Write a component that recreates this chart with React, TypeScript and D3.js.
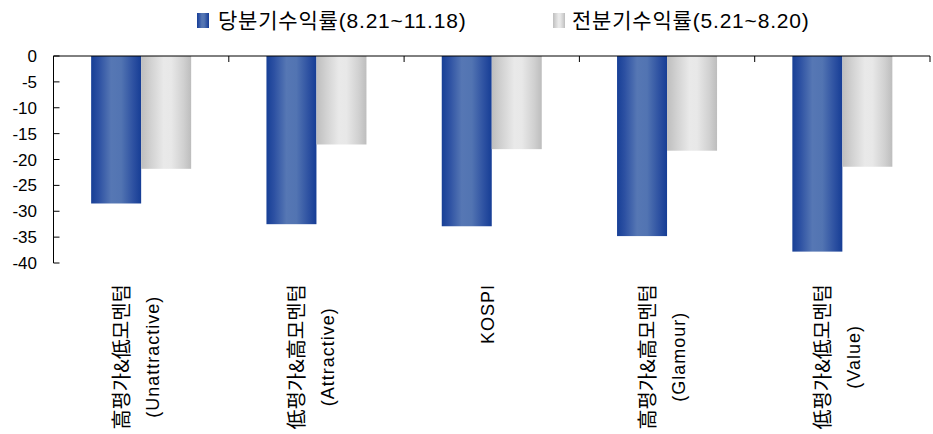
import React, { useEffect, useRef } from "react";
import * as d3 from "d3";

const categories = ["Unattractive", "Attractive", "KOSPI", "Glamour", "Value"];
const categoryLines: string[][] = [
  ["高평가&低모멘텀", "(Unattractive)"],
  ["低평가&高모멘텀", "(Attractive)"],
  ["KOSPI"],
  ["高평가&高모멘텀", "(Glamour)"],
  ["低평가&低모멘텀", "(Value)"],
];
const seriesNames = ["당분기수익률(8.21~11.18)", "전분기수익률(5.21~8.20)"];
const currentReturns = [-28.5, -32.5, -32.9, -34.8, -37.8];
const previousReturns = [-21.8, -17.1, -18.0, -18.3, -21.4];
const yTicks = [0, -5, -10, -15, -20, -25, -30, -35, -40];

const W = 933;
const H = 434;

export default function App() {
  const ref = useRef<SVGSVGElement | null>(null);

  useEffect(() => {
    const svg = d3.select(ref.current);
    svg.selectAll("*").remove();

    const defs = svg.append("defs");
    const blue = defs.append("linearGradient").attr("id", "gBlue").attr("x1", 0).attr("x2", 1).attr("y1", 0).attr("y2", 0);
    [
      [0, "#173F96"], [0.15, "#2C50A2"], [0.4, "#5677B4"], [0.6, "#5274B2"], [0.85, "#2C50A1"], [1, "#163D95"],
    ].forEach(([o, c]) => blue.append("stop").attr("offset", o as number).attr("stop-color", c as string));
    const gray = defs.append("linearGradient").attr("id", "gGray").attr("x1", 0).attr("x2", 1).attr("y1", 0).attr("y2", 0);
    [
      [0, "#BEBEBE"], [0.2, "#D2D2D2"], [0.45, "#E9E9E9"], [0.6, "#E8E8E8"], [0.85, "#D0D0D0"], [1, "#BDBDBD"],
    ].forEach(([o, c]) => gray.append("stop").attr("offset", o as number).attr("stop-color", c as string));
    const fills = ["url(#gBlue)", "url(#gGray)"];

    const left = 53.5, right = 930;
    const y = d3.scaleLinear().domain([-40, 0]).range([263, 56]);
    const x0 = d3.scaleBand<string>().domain(categories).range([left, right]).padding(0);
    const x1 = d3.scaleBand<string>().domain(["cur", "prev"]).range([0, x0.bandwidth()]).paddingInner(0).paddingOuter(0.753);

    const data = categories.map((c, i) => ({ c, vals: [currentReturns[i], previousReturns[i]] }));

    // bars
    const g = svg.append("g");
    data.forEach((d) => {
      ["cur", "prev"].forEach((k, j) => {
        const v = d.vals[j];
        g.append("rect")
          .attr("x", (x0(d.c) as number) + (x1(k) as number))
          .attr("y", y(0))
          .attr("width", x1.bandwidth())
          .attr("height", y(v) - y(0))
          .attr("fill", fills[j]);
      });
    });

    // y axis
    svg.append("line").attr("x1", left).attr("x2", left).attr("y1", y(0)).attr("y2", y(-40)).attr("stroke", "#000").attr("stroke-width", 1);
    yTicks.forEach((t) => {
      svg.append("line").attr("x1", left).attr("x2", left + 6).attr("y1", y(t)).attr("y2", y(t)).attr("stroke", "#000");
      svg.append("text")
        .attr("x", 37).attr("y", y(t)).attr("dy", "0.36em")
        .attr("text-anchor", "end")
        .attr("font-family", "'Liberation Sans', Arial, sans-serif")
        .attr("font-size", 17)
        .attr("fill", "#000")
        .text(String(t));
    });

    // category axis (at zero, top)
    svg.append("line").attr("x1", left).attr("x2", right).attr("y1", y(0)).attr("y2", y(0)).attr("stroke", "#000");
    const bounds = categories.map((c) => x0(c) as number).concat([right]);
    bounds.forEach((bx) => {
      svg.append("line").attr("x1", bx).attr("x2", bx).attr("y1", y(0)).attr("y2", y(0) + 6).attr("stroke", "#000");
    });

    // category labels rotated
    const topY = 284;
    categoryLines.forEach((lines, i) => {
      const cx = (x0(categories[i]) as number) + x0.bandwidth() / 2 - 4;
      const n = lines.length;
      const spacing = 31;
      const texts = lines.map((ln, j) => {
        const isKo = /[\uAC00-\uD7A3\u4E00-\u9FFF]/.test(ln);
        const fs = isKo ? 20 : 18;
        const glyphCx = cx + (j - (n - 1) / 2) * spacing;
        const t = svg.append("text")
          .attr("font-family", isKo ? "'Noto Sans CJK KR', sans-serif" : "'Liberation Sans', Arial, sans-serif")
          .attr("font-size", fs)
          .attr("letter-spacing", isKo ? 0 : 1)
          .attr("text-anchor", "middle")
          .attr("fill", "#000")
          .text(ln);
        return { t, glyphCx, fs };
      });
      const lens = texts.map(({ t }) => (t.node() as SVGTextElement).getComputedTextLength());
      const maxLen = Math.max(...lens);
      const cy = topY + maxLen / 2;
      texts.forEach(({ t, glyphCx, fs }) => {
        const bx = glyphCx + fs * 0.36;
        t.attr("transform", `translate(${bx},${cy}) rotate(-90)`);
      });
    });

    // legend
    const legendItems = [
      { x: 197, tx: 218 },
      { x: 553, tx: 572 },
    ];
    legendItems.forEach((li, j) => {
      svg.append("rect").attr("x", li.x).attr("y", 13).attr("width", 12).attr("height", 15).attr("fill", fills[j]);
      svg.append("text")
        .attr("x", li.tx).attr("y", 28)
        .attr("font-family", "'Liberation Sans', 'Noto Sans CJK KR', sans-serif")
        .attr("font-size", 21)
        .attr("letter-spacing", 0.8)
        .attr("fill", "#000")
        .text(seriesNames[j]);
    });
  }, []);

  return (
    <svg
      ref={ref}
      width={W}
      height={H}
      viewBox={`0 0 ${W} ${H}`}
      style={{ position: "absolute", left: 0, top: 0, background: "#fff" }}
    />
  );
}
